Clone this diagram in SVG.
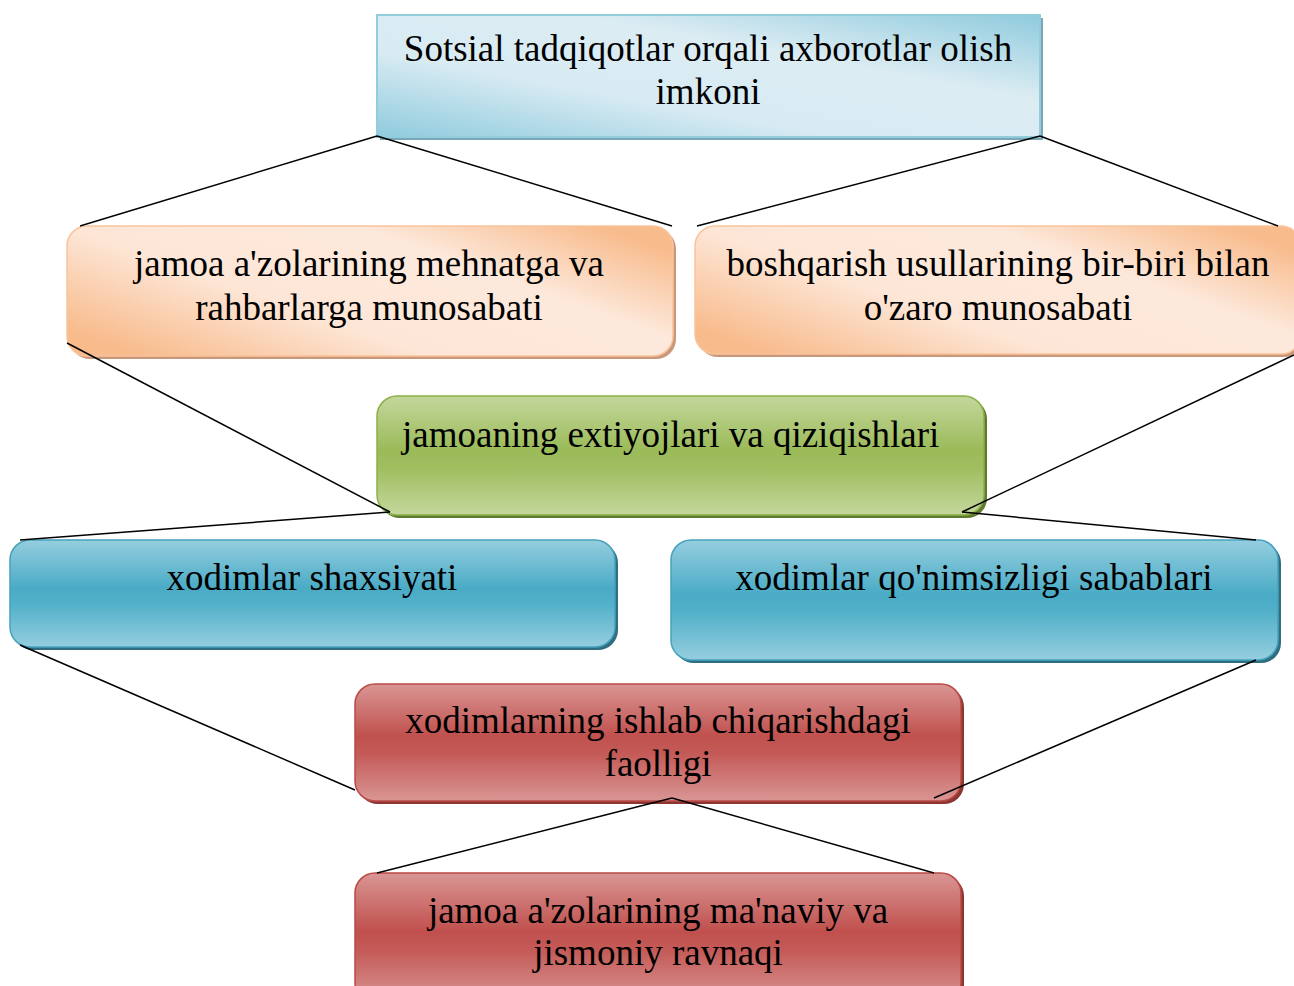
<svg xmlns="http://www.w3.org/2000/svg" width="1294" height="986" viewBox="0 0 1294 986">
<defs>
<linearGradient id="gTop" x1="0" y1="1" x2="1" y2="0">
<stop offset="0" stop-color="#8fcbdd"/><stop offset="0.35" stop-color="#d8ebf3"/><stop offset="0.65" stop-color="#dcecf3"/><stop offset="1" stop-color="#8fcbdd"/>
</linearGradient>
<linearGradient id="gOr" x1="0" y1="0.8" x2="1" y2="0.2">
<stop offset="0" stop-color="#f8bb8c"/><stop offset="0.35" stop-color="#fde6d6"/><stop offset="0.7" stop-color="#fde9dc"/><stop offset="1" stop-color="#f8bb8c"/>
</linearGradient>
<linearGradient id="gGr" x1="0" y1="0" x2="0" y2="1">
<stop offset="0" stop-color="#c4d79c"/><stop offset="0.45" stop-color="#9bbb59"/><stop offset="0.6" stop-color="#9fbe5f"/><stop offset="1" stop-color="#c4d79c"/>
</linearGradient>
<linearGradient id="gBl" x1="0" y1="0" x2="0" y2="1">
<stop offset="0" stop-color="#95cedf"/><stop offset="0.45" stop-color="#4aabc6"/><stop offset="0.6" stop-color="#52b0c9"/><stop offset="1" stop-color="#95cedf"/>
</linearGradient>
<linearGradient id="gRd" x1="0" y1="0" x2="0" y2="1">
<stop offset="0" stop-color="#d99694"/><stop offset="0.45" stop-color="#c0504d"/><stop offset="0.6" stop-color="#c45b58"/><stop offset="1" stop-color="#d99694"/>
</linearGradient>
</defs>
<style>
.t{font-family:'Liberation Serif','Times New Roman',serif;font-size:37px;fill:#000;}
.c{text-anchor:middle;}
.conn line{stroke:#000;stroke-width:1.5;}
.shTop{fill:#7aa7b7;}
.shOr{fill:#c9977a;}
.shGr{fill:#5f7a2e;}
.shBl{fill:#2f6e80;}
.shRd{fill:#8a3633;}
</style>
<rect width="1294" height="986" fill="#fff"/>
<g id="n-top">
<rect x="380" y="18" width="663" height="122" class="shTop"/>
<rect x="377" y="15" width="663" height="122" fill="url(#gTop)" stroke="#92cddc" stroke-width="2"/>
<text x="708" y="61" class="t c">Sotsial tadqiqotlar orqali axborotlar olish</text>
<text x="708" y="104" class="t c">imkoni</text>
</g>
<g id="n-or1">
<rect x="70" y="229" width="606" height="130" rx="20" class="shOr"/>
<rect x="67" y="226" width="606" height="130" rx="20" fill="url(#gOr)" stroke="#f9c49c" stroke-width="1.5"/>
<text x="369" y="276" class="t c">jamoa a'zolarining mehnatga va</text>
<text x="369" y="320" class="t c">rahbarlarga munosabati</text>
</g>
<g id="n-or2">
<rect x="698" y="229" width="606" height="128" rx="20" class="shOr"/>
<rect x="695" y="226" width="606" height="128" rx="20" fill="url(#gOr)" stroke="#f9c49c" stroke-width="1.5"/>
<text x="998" y="276" class="t c">boshqarish usullarining bir-biri bilan</text>
<text x="998" y="320" class="t c">o'zaro munosabati</text>
</g>
<g id="n-green">
<rect x="380" y="399" width="607" height="119" rx="20" class="shGr"/>
<rect x="377" y="396" width="607" height="119" rx="20" fill="url(#gGr)" stroke="#8cb04a" stroke-width="1.5"/>
<text x="402" y="447" class="t">jamoaning extiyojlari va qiziqishlari</text>
</g>
<g id="n-blue1">
<rect x="13" y="543" width="605" height="107" rx="20" class="shBl"/>
<rect x="10" y="540" width="605" height="107" rx="20" fill="url(#gBl)" stroke="#45a2bc" stroke-width="1.5"/>
<text x="312" y="590" class="t c">xodimlar shaxsiyati</text>
</g>
<g id="n-blue2">
<rect x="674" y="543" width="607" height="120" rx="20" class="shBl"/>
<rect x="671" y="540" width="607" height="120" rx="20" fill="url(#gBl)" stroke="#45a2bc" stroke-width="1.5"/>
<text x="974" y="590" class="t c">xodimlar qo'nimsizligi sabablari</text>
</g>
<g id="n-red1">
<rect x="358" y="687" width="606" height="117" rx="20" class="shRd"/>
<rect x="355" y="684" width="606" height="117" rx="20" fill="url(#gRd)" stroke="#b94946" stroke-width="1.5"/>
<text x="658" y="733" class="t c">xodimlarning ishlab chiqarishdagi</text>
<text x="658" y="776" class="t c">faolligi</text>
</g>
<g id="n-red2">
<rect x="358" y="876" width="606" height="130" rx="20" class="shRd"/>
<rect x="355" y="873" width="606" height="130" rx="20" fill="url(#gRd)" stroke="#b94946" stroke-width="1.5"/>
<text x="658" y="923" class="t c">jamoa a'zolarining ma'naviy va</text>
<text x="658" y="965" class="t c">jismoniy ravnaqi</text>
</g>
<g class="conn">
<line x1="377" y1="136" x2="80" y2="226"/>
<line x1="377" y1="136" x2="672" y2="226"/>
<line x1="1040" y1="136" x2="697" y2="226"/>
<line x1="1040" y1="136" x2="1278" y2="226"/>
<line x1="67" y1="343" x2="390" y2="512"/>
<line x1="1294" y1="355" x2="962" y2="512"/>
<line x1="390" y1="512" x2="20" y2="540"/>
<line x1="962" y1="512" x2="1256" y2="540"/>
<line x1="20" y1="645" x2="355" y2="790"/>
<line x1="1256" y1="660" x2="934" y2="798"/>
<line x1="672" y1="798" x2="377" y2="873"/>
<line x1="672" y1="798" x2="934" y2="873"/>
</g>
</svg>
